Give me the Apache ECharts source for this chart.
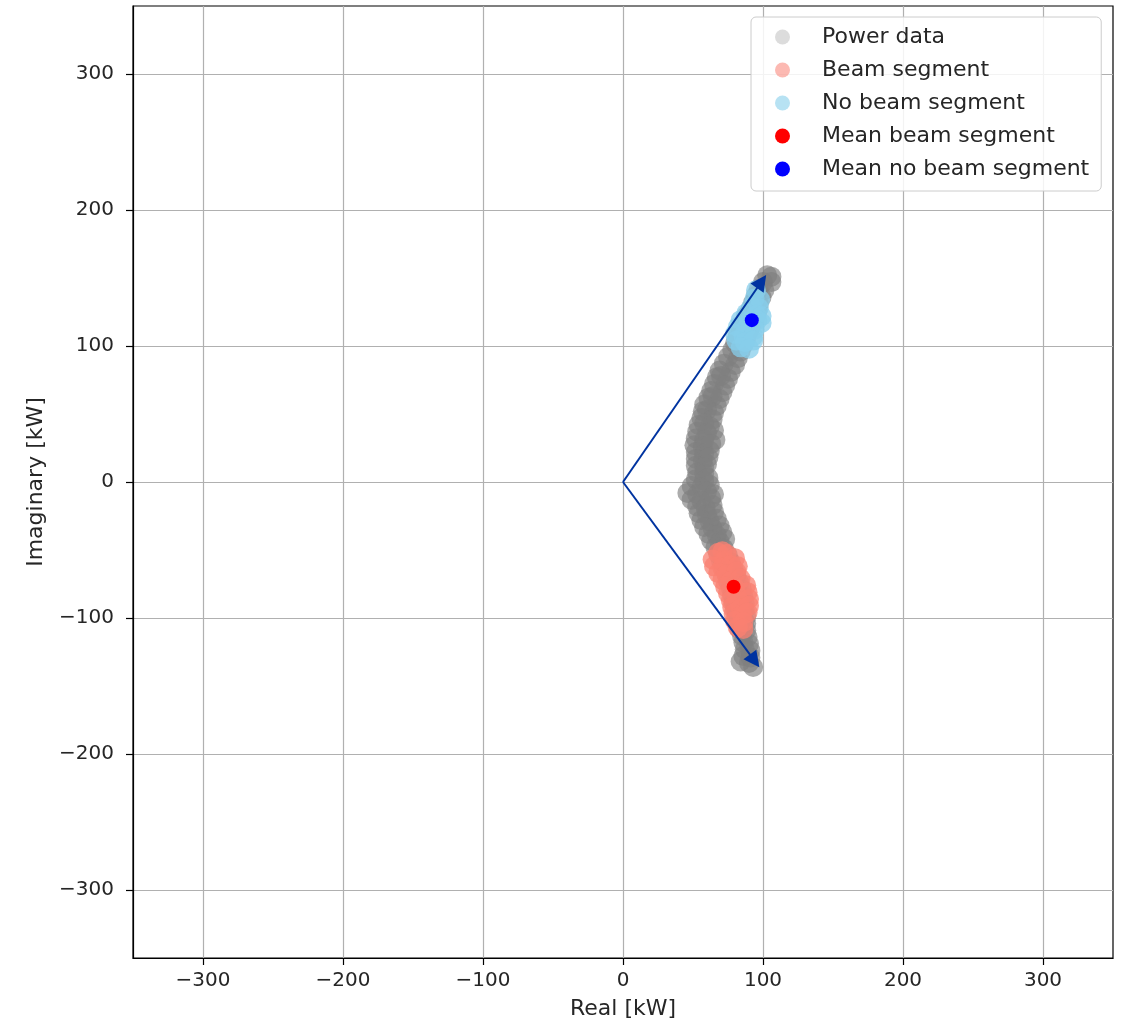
<!DOCTYPE html>
<html>
<head>
<meta charset="utf-8">
<script src="https://cdn.jsdelivr.net/npm/echarts@6/dist/echarts.min.js"></script>
<style>
html,body{margin:0;padding:0;background:#fff;}
#c{width:1127px;height:1027px;}
</style>
</head>
<body>
<div id="c"></div>
<script>
// ---- data ----
const tickValues = [-300, -200, -100, 0, 100, 200, 300];

const powerData = [
  [103,152],[106,151],[100,147],[106,147],[97,142],[101,141],[95,137],[99,136],
  [93,132],[97,131],[91,127],[96,126],[88,122],[94,121],[86,117],[92,116],
  [84,112],[90,111],[82,107],[88,106],[80,102],[86,101],[78,97],[84,96],
  [75,92],[82,91],[72,87],[80,86],[69,82],[77,81],[67,77],[75,76],[70,78],
  [65,72],[73,71],[63,67],[71,66],[61,62],[69,61],[64,63],[58,57],[67,56],
  [57,52],[65,51],[60,53],[56,47],[64,46],[54,42],[62,41],[58,43],
  [53,37],[60,36],[65,38],[52,32],[58,31],[66,31],[51,27],[57,26],[63,28],
  [52,22],[58,21],[62,23],[52,17],[57,16],[61,18],[52,12],[58,11],[60,13],
  [53,7],[58,6],[52,2],[58,1],[61,3],[49,-3],[56,-4],[62,-2],
  [46,-8],[53,-9],[60,-7],[65,-9],[49,-13],[56,-14],[63,-12],
  [53,-18],[59,-19],[64,-17],[54,-23],[60,-24],[65,-22],[56,-28],[62,-29],[67,-27],
  [58,-33],[64,-34],[69,-32],[61,-38],[67,-39],[71,-37],[63,-43],[69,-44],[73,-42],
  [66,-48],[72,-49],[68,-53],[75,-54],[70,-58],[77,-59],[72,-63],[79,-64],
  [74,-68],[81,-69],[75,-73],[83,-74],[77,-78],[85,-79],[78,-83],[86,-84],
  [79,-88],[87,-89],[80,-93],[87,-94],[81,-98],[88,-99],[82,-103],[88,-104],
  [83,-108],[88,-109],[85,-113],[89,-114],[86,-118],[90,-119],[87,-123],[91,-124],
  [86,-128],[91,-129],[84,-132],[90,-133],[93,-136]
];

const beamData = [
  [68,-52],[74,-53],[71,-51],[64,-57],[72,-58],[80,-56],
  [65,-62],[71,-63],[77,-61],[82,-62],[68,-67],[74,-68],[81,-66],
  [71,-72],[77,-73],[84,-71],[73,-77],[80,-78],[88,-76],
  [75,-82],[81,-83],[89,-81],[77,-87],[83,-88],[90,-86],
  [78,-92],[84,-93],[90,-91],[79,-97],[85,-98],[89,-96],
  [80,-102],[86,-103],[82,-107],[86,-108]
];

const noBeamData = [
  [95,141],[94,135],[98,134],[92,129],[97,128],
  [88,124],[95,123],[99,122],[84,119],[90,118],[96,119],[99,117],
  [82,114],[88,113],[94,112],[80,109],[86,108],[93,107],
  [81,104],[87,103],[93,104],[84,99],[90,98]
];

const meanBeam = [[79,-77]];
const meanNoBeam = [[92,119]];

const arrowOrigin = [0, 0];
const arrowEnds = [[99,147.4],[94,-131.5]];

const seriesNames = ['Power data','Beam segment','No beam segment','Mean beam segment','Mean no beam segment'];

// ---- chart ----
const FONT = 'DejaVu Sans';
const minus = v => (v < 0 ? '\u2212' + Math.abs(v) : String(v));

function axis(type, name) {
  const isX = type === 'x';
  return {
    type: 'value',
    min: -350, max: 350, splitNumber: 7,
    name: name,
    nameLocation: 'middle',
    nameGap: isX ? 40 : 86,
    nameTextStyle: { fontFamily: FONT, fontSize: 22, color: '#262626' },
    axisLine: { show: true, onZero: false, lineStyle: { color: '#000', width: 1.2 } },
    axisTick: { show: true, inside: false, length: 7, customValues: tickValues, lineStyle: { color: '#000', width: 1.2 } },
    axisLabel: {
      customValues: tickValues,
      margin: isX ? 13 : 19,
      fontFamily: FONT, fontSize: 20, color: '#262626',
      formatter: minus
    },
    splitLine: { show: true, lineStyle: { color: '#b0b0b0', width: 1.2 } }
  };
}

const chart = echarts.init(document.getElementById('c'), null, { renderer: 'canvas' });
chart.setOption({
  animation: false,
  backgroundColor: '#fff',
  grid: { left: 133, right: 14, top: 6, bottom: 69, show: true, borderColor: '#000', borderWidth: 1.2, backgroundColor: 'transparent' },
  xAxis: axis('x', 'Real [kW]'),
  yAxis: axis('y', 'Imaginary [kW]'),
  legend: {
    left: 751, top: 17,
    orient: 'vertical',
    padding: [9, 12, 11, 24],
    itemWidth: 15, itemHeight: 15, itemGap: 11,
    backgroundColor: 'rgba(255,255,255,0.85)',
    borderColor: '#cccccc', borderWidth: 1, borderRadius: 5,
    textStyle: { fontFamily: FONT, fontSize: 22, color: '#262626', lineHeight: 22, padding: [0, 0, 0, 27] },
    data: [
      { name: seriesNames[0], icon: 'circle', itemStyle: { color: 'rgba(128,128,128,0.28)', opacity: 1 } },
      { name: seriesNames[1], icon: 'circle', itemStyle: { color: 'rgba(250,128,114,0.55)', opacity: 1 } },
      { name: seriesNames[2], icon: 'circle', itemStyle: { color: 'rgba(135,206,235,0.6)', opacity: 1 } },
      { name: seriesNames[3], icon: 'circle', itemStyle: { color: '#ff0000', opacity: 1 } },
      { name: seriesNames[4], icon: 'circle', itemStyle: { color: '#0000ff', opacity: 1 } }
    ]
  },
  series: [
    { name: seriesNames[0], type: 'scatter', data: powerData, symbolSize: 20, silent: true, z: 2,
      itemStyle: { color: '#808080', opacity: 0.65 } },
    { name: seriesNames[1], type: 'scatter', data: beamData, symbolSize: 20, silent: true, z: 3,
      itemStyle: { color: '#fa8072', opacity: 0.75 } },
    { name: seriesNames[2], type: 'scatter', data: noBeamData, symbolSize: 20, silent: true, z: 3,
      itemStyle: { color: '#87ceeb', opacity: 0.75 } },
    { name: seriesNames[3], type: 'scatter', data: meanBeam, symbolSize: 14, silent: true, z: 4,
      itemStyle: { color: '#ff0000', opacity: 1 } },
    { name: seriesNames[4], type: 'scatter', data: meanNoBeam, symbolSize: 14, silent: true, z: 4,
      itemStyle: { color: '#0000ff', opacity: 1 } },
    { name: 'arrows', type: 'lines', coordinateSystem: 'cartesian2d', silent: true, z: 5,
      symbol: ['none', 'triangle'], symbolSize: [13, 16],
      lineStyle: { color: '#0033a0', width: 2, opacity: 1, curveness: 0 },
      data: arrowEnds.map(e => ({ coords: [arrowOrigin, e] })) }
  ]
});
</script>
</body>
</html>
